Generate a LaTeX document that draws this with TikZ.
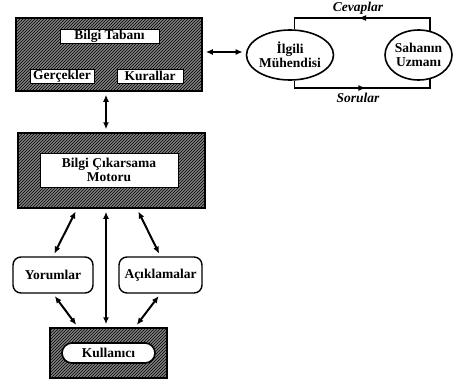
\documentclass[tikz,border=0pt]{standalone}
\usepackage{fontspec}
\setmainfont{Liberation Serif}
\usetikzlibrary{arrows.meta,shapes.geometric,patterns,calc}
\begin{document}
\begin{tikzpicture}[x=1pt,y=-1pt,
  font=\fontsize{13.5}{14.5}\selectfont\bfseries,
  hatch/.style={draw=black, line width=1.5pt, preaction={fill=black!50}, pattern=north east lines, pattern color=black, inner sep=0pt},
  lbl/.style={draw=black, line width=0.8pt, fill=white, inner sep=0pt, align=center},
  rbox/.style={draw=black, line width=1.4pt, fill=white, rounded corners=8pt, inner sep=0pt, align=center},
  ell/.style={draw=black, ellipse, line width=1.6pt, inner sep=0pt, align=center},
  link/.style={line width=2pt, {Latex[length=7pt,width=6pt]}-{Latex[length=7pt,width=6pt]}, shorten <=3pt, shorten >=3pt},
  loopline/.style={line width=1.5pt},
  lab/.style={font=\fontsize{13.5}{14.5}\selectfont\bfseries\itshape, inner sep=0pt}
]
\useasboundingbox (0,0) rectangle (460,381);
% hatched containers
\node[hatch, minimum width=186pt, minimum height=73pt] (tb) at (109,54.5) {};
\node[hatch, minimum width=187pt, minimum height=75pt] (mb) at (111.5,170.5) {};
\node[hatch, minimum width=117pt, minimum height=50pt] (kb) at (108.5,353) {};
% inner labels
\node[lbl, minimum width=99pt, minimum height=14pt] (tbl) at (109.5,36) {Bilgi Tabanı};
\node[lbl, minimum width=64pt, minimum height=14pt] (ger) at (62,76) {Gerçekler};
\node[lbl, minimum width=66pt, minimum height=14pt] (kur) at (150,76) {Kurallar};
\node[lbl, minimum width=138pt, minimum height=34pt] (mbl) at (109,170) {Bilgi Çıkarsama\\Motoru};
\node[rbox, rounded corners=10pt, line width=1.6pt, minimum width=93pt, minimum height=20pt] (kul) at (108.5,353) {Kullanıcı};
% side boxes
\node[rbox, minimum width=80pt, minimum height=36pt] (yor) at (53,275) {Yorumlar};
\node[rbox, minimum width=83pt, minimum height=36pt] (aci) at (160.5,275) {Açıklamalar};
% ellipses
\node[ell, minimum width=70pt, minimum height=50pt] (ilg) at (290,55) {İlgili\\Mühendisi};
\node[ell, minimum width=67pt, minimum height=50pt] (sah) at (418.5,55) {Sahanın\\Uzmanı};
% helper coordinates
\coordinate (vx) at (106,0);
\coordinate (ty) at (0,18);
\coordinate (by) at (0,88);
\coordinate (hy) at (0,52);
\coordinate (d1) at (77,0);
\coordinate (d2) at (137,0);
\coordinate (d3) at (78,0);
\coordinate (d4) at (135,0);
% links
\draw[link] (tb.east |- hy) -- (ilg.west |- hy);
\draw[link] (vx |- tb.south) -- (vx |- mb.north);
\draw[link] (vx |- mb.south) -- (vx |- kb.north);
\draw[link] (d1 |- mb.south) -- (yor.north);
\draw[link] (d2 |- mb.south) -- (aci.north);
\draw[link] (yor.south) -- (d3 |- kb.north);
\draw[link] (aci.south) -- (d4 |- kb.north);
% dialogue loop
\draw[loopline] (ilg.80) |- (sah.65 |- ty) -- (sah.65);
\draw[loopline] (ilg.-80) |- (sah.-65 |- by) -- (sah.-65);
\coordinate (cmid) at ($(ilg.80 |- ty)!0.47!(sah.65 |- ty)$);
\coordinate (smid) at ($(ilg.-80 |- by)!0.53!(sah.-65 |- by)$);
\draw[line width=1.5pt, -{Latex[length=8pt,width=6pt]}] (sah.65 |- ty) -- (cmid);
\draw[line width=1.5pt, -{Latex[length=8pt,width=6pt]}] (ilg.-80 |- by) -- (smid);
\node[lab] (cev) at (358,8) {Cevaplar};
\node[lab] (sor) at (358,98) {Sorular};
\end{tikzpicture}
\end{document}
